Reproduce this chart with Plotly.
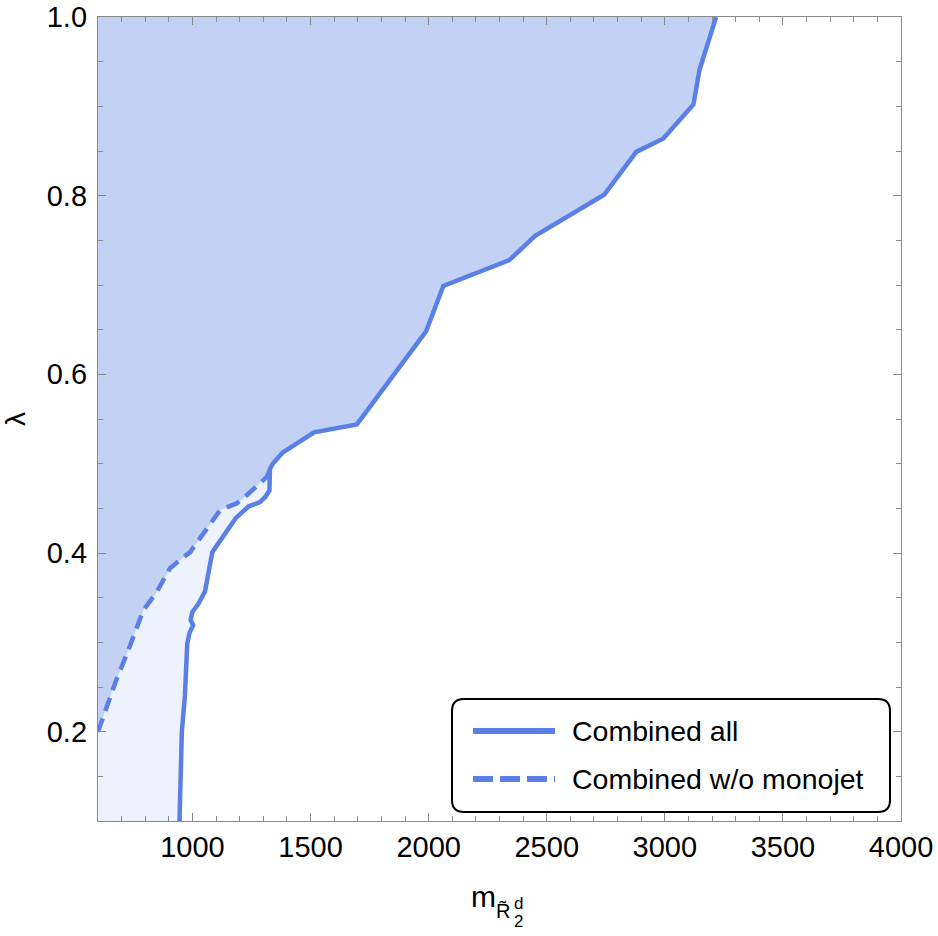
import plotly.graph_objects as go

# ---------------- data ----------------
solid_x = [945, 955, 968, 978, 988, 1003, 992, 1000, 1025, 1053, 1084, 1183, 1237,
           1286, 1309, 1326, 1328, 1340, 1382, 1515, 1696, 1989, 2062, 2342,
           2451, 2743, 2879, 2994, 3121, 3147, 3217]
solid_y = [0.10, 0.20, 0.24, 0.299, 0.311, 0.319, 0.325, 0.334, 0.343, 0.357, 0.401,
           0.439, 0.452, 0.457, 0.463, 0.470, 0.494, 0.500, 0.5125, 0.535,
           0.544, 0.648, 0.699, 0.728, 0.755, 0.801, 0.849, 0.864, 0.902,
           0.941, 1.0]

dashed_x = [600, 640, 672, 728, 792, 848, 905, 947, 990, 1117, 1187, 1230, 1314, 1340]
dashed_y = [0.200, 0.232, 0.254, 0.291, 0.336, 0.356, 0.383, 0.392, 0.401, 0.448,
            0.4555, 0.4647, 0.485, 0.500]

x_range = [600, 4000]
y_range = [0.1, 1.0]
x_ticks = [1000, 1500, 2000, 2500, 3000, 3500, 4000]
y_ticks = [0.2, 0.4, 0.6, 0.8, 1.0]
legend_labels = ["Combined all", "Combined w/o monojet"]

# ---------------- styling ----------------
LINE = "#5a80e8"
DARK = "#c2d1f4"
LIGHT = "#edf2fc"
FONT = "Liberation Sans, Arial, sans-serif"
W, H = 938, 936
ML, MR, MT, MB = 98, 37, 17, 115
PW, PH = W - ML - MR, H - MT - MB


def px(xp):
    return (xp - ML) / PW


def py(yp):
    return (H - MB - yp) / PH


fig = go.Figure()

# light region: everything left of the "Combined all" curve
fig.add_trace(go.Scatter(
    x=[x_range[0]] + solid_x + [x_range[0]],
    y=[y_range[0]] + solid_y + [y_range[1]],
    fill="toself", fillcolor=LIGHT, mode="none", showlegend=False,
    hoverinfo="skip"))

# darker region: left of the "w/o monojet" curve
join = solid_x.index(dashed_x[-1])
fig.add_trace(go.Scatter(
    x=dashed_x + solid_x[join + 1:] + [x_range[0]],
    y=dashed_y + solid_y[join + 1:] + [y_range[1]],
    fill="toself", fillcolor=DARK, mode="none", showlegend=False,
    hoverinfo="skip"))

fig.add_trace(go.Scatter(
    x=dashed_x, y=dashed_y, mode="lines", name=legend_labels[1],
    line=dict(color=LINE, width=4.5, dash="14px,8px"), showlegend=False))

fig.add_trace(go.Scatter(
    x=solid_x, y=solid_y, mode="lines", name=legend_labels[0],
    line=dict(color=LINE, width=4.5), showlegend=False))

axis_common = dict(
    showline=True, linecolor="#8a8a8a", linewidth=1.3, mirror="allticks",
    ticks="inside", ticklen=8, tickwidth=1.2, tickcolor="#8a8a8a",
    showgrid=False, zeroline=False, automargin=False,
    tickfont=dict(family=FONT, size=29, color="black"),
)

fig.update_xaxes(
    range=x_range, tickvals=x_ticks, tickformat="d", ticklabelstandoff=0,
    minor=dict(dtick=100, tick0=0, ticks="inside", ticklen=5,
               tickcolor="#8a8a8a", tickwidth=1.1, showgrid=False),
    **axis_common)
fig.update_yaxes(
    range=y_range, tickvals=y_ticks, tickformat=".1f", ticklabelstandoff=4,
    minor=dict(dtick=0.05, tick0=0, ticks="inside", ticklen=5,
               tickcolor="#8a8a8a", tickwidth=1.1, showgrid=False),
    title=dict(text="λ", font=dict(family=FONT, size=28, color="black"),
               standoff=18),
    **axis_common)

# ---------------- manual legend ----------------
r = 12
x0, x1 = px(452), px(890)
y0, y1 = py(812), py(699)
rx, ry = r / PW, r / PH
path = (f"M {x0+rx},{y0} L {x1-rx},{y0} Q {x1},{y0} {x1},{y0+ry} "
        f"L {x1},{y1-ry} Q {x1},{y1} {x1-rx},{y1} L {x0+rx},{y1} "
        f"Q {x0},{y1} {x0},{y1-ry} L {x0},{y0+ry} Q {x0},{y0} {x0+rx},{y0} Z")
shapes = [dict(type="path", path=path, xref="paper", yref="paper",
               line=dict(color="black", width=2), fillcolor="rgba(255,255,255,0.9)")]
for i, (yy, dash) in enumerate([(731, "solid"), (779, "20px,7px")]):
    shapes.append(dict(type="line", xref="paper", yref="paper",
                       x0=px(473), x1=px(555), y0=py(yy), y1=py(yy),
                       line=dict(color=LINE, width=6, dash=dash)))

annotations = []
for lab, yy in zip(legend_labels, [731, 779]):
    annotations.append(dict(text=lab, xref="paper", yref="paper", x=px(570), y=py(yy),
                            xanchor="left", yanchor="middle", showarrow=False,
                            font=dict(family=FONT, size=28.5, color="black")))

# ---------------- x-axis title m_{R~2^d} ----------------
annotations += [
    dict(text="m", x=px(483), y=py(896), font=dict(family=FONT, size=30, color="black"),
         xanchor="center", yanchor="middle"),
    dict(text="R\u0303", x=px(502.5), y=py(911), font=dict(family=FONT, size=20, color="black"),
         xanchor="center", yanchor="middle"),
    dict(text="d", x=px(513), y=py(903.5), font=dict(family=FONT, size=17, color="black"),
         xanchor="left", yanchor="middle"),
    dict(text="2", x=px(513), y=py(921.5), font=dict(family=FONT, size=17, color="black"),
         xanchor="left", yanchor="middle"),
]
for a in annotations[-4:]:
    a.update(xref="paper", yref="paper", showarrow=False, borderpad=0)

fig.update_layout(
    width=W, height=H, margin=dict(l=ML, r=MR, t=MT, b=MB),
    plot_bgcolor="white", paper_bgcolor="white",
    shapes=shapes, annotations=annotations, showlegend=False,
    font=dict(family=FONT),
)

fig.write_html("out.html")
